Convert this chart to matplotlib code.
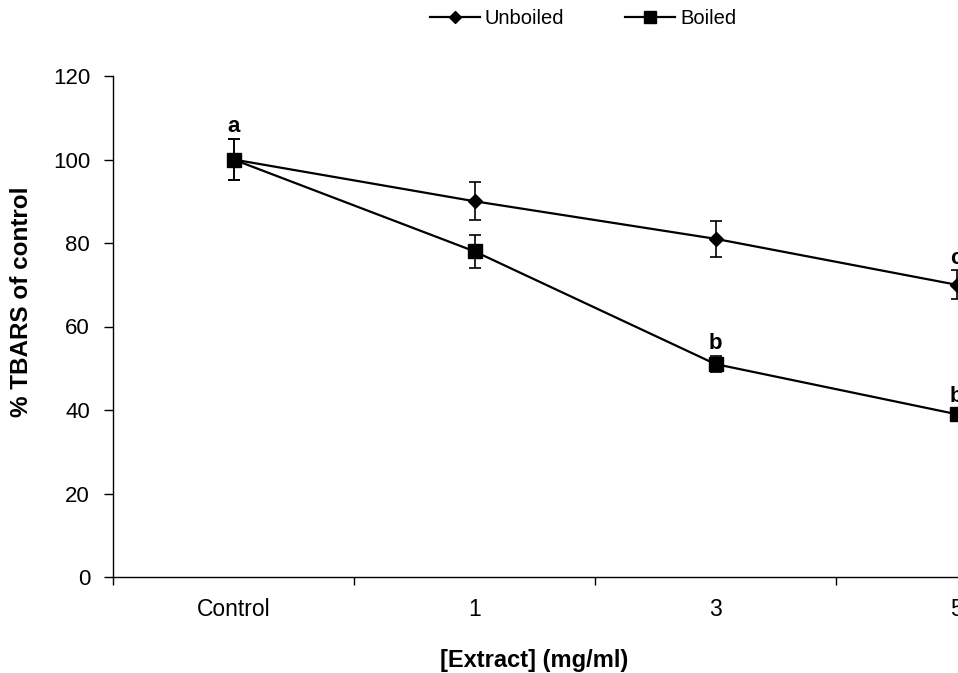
import matplotlib
matplotlib.use("Agg")
import matplotlib.pyplot as plt
from matplotlib.ticker import FixedLocator
from matplotlib.lines import Line2D

plt.rcParams['font.family'] = ['Liberation Sans', 'DejaVu Sans']

categories = ["Control", "1", "3", "5"]
unboiled = [100, 90, 81, 70]
unboiled_err = [5, 4.5, 4.3, 3.5]
boiled = [100, 78, 51, 39]
boiled_err = [5, 4, 2, 1.5]
unboiled_letters = ["", "", "", "c"]
boiled_letters = ["a", "", "b", "b"]

W, H = 958, 673
fig = plt.figure(figsize=(W / 100, H / 100), dpi=100)
ax_l, ax_r = 113, W
ax_t, ax_b = 76, 577
ax = fig.add_axes([ax_l / W, 1 - ax_b / H, (ax_r - ax_l) / W, (ax_b - ax_t) / H])

x = list(range(len(categories)))
ax.errorbar(x, unboiled, yerr=unboiled_err, color='black', lw=1.6, marker='D',
            markersize=7, capsize=4.5, capthick=1.2, elinewidth=1.2, clip_on=False,
            zorder=3)
ax.errorbar(x, boiled, yerr=boiled_err, color='black', lw=1.6, marker='s',
            markersize=10, capsize=4.5, capthick=1.2, elinewidth=1.2, clip_on=False,
            zorder=3)

for vals, errs, letters in [(unboiled, unboiled_err, unboiled_letters),
                            (boiled, boiled_err, boiled_letters)]:
    for xi, (v, e, t) in enumerate(zip(vals, errs, letters)):
        if t:
            ax.annotate(t, (xi, v + e), xytext=(0, 1), textcoords='offset points',
                        ha='center', va='bottom', fontsize=16, fontweight='bold',
                        annotation_clip=False)

ax.set_xlim(-0.5, -0.5 + (ax_r - ax_l) / 241)
ax.set_ylim(0, 120)
ax.set_yticks(range(0, 121, 20))
ax.set_xticks(x)
ax.set_xticklabels(categories)
ax.xaxis.set_minor_locator(FixedLocator([-0.5, 0.5, 1.5, 2.5]))
ax.tick_params(axis='x', which='major', length=0, pad=15, labelsize=16.5)
ax.tick_params(axis='x', which='minor', length=6, width=1)
ax.tick_params(axis='y', length=6.5, width=1, labelsize=16, pad=10)

for s in ['top', 'right']:
    ax.spines[s].set_visible(False)
for s in ['left', 'bottom']:
    ax.spines[s].set_linewidth(1)

ax.set_ylabel('% TBARS of control', fontsize=17.5, fontweight='bold')
ax.yaxis.set_label_coords((22 - ax_l) / (ax_r - ax_l), (ax_b - 302) / (ax_b - ax_t))
ax.yaxis.label.set_va('center')
ax.set_xlabel('[Extract] (mg/ml)', fontsize=17, fontweight='bold')
ax.xaxis.set_label_coords((534 - ax_l) / (ax_r - ax_l), -(660 - ax_b) / (ax_b - ax_t))
ax.xaxis.label.set_va('center')

handles = [Line2D([], [], color='black', lw=1.6, marker='D', markersize=6),
           Line2D([], [], color='black', lw=1.6, marker='s', markersize=9)]
fig.legend(handles, ['Unboiled', 'Boiled'], loc='center',
           bbox_to_anchor=(583 / W, 1 - 19 / H), ncol=2, frameon=False,
           fontsize=14.5, handlelength=2.5, columnspacing=3.0,
           handletextpad=0.25, borderpad=0)

fig.savefig('out.png', dpi=100)
